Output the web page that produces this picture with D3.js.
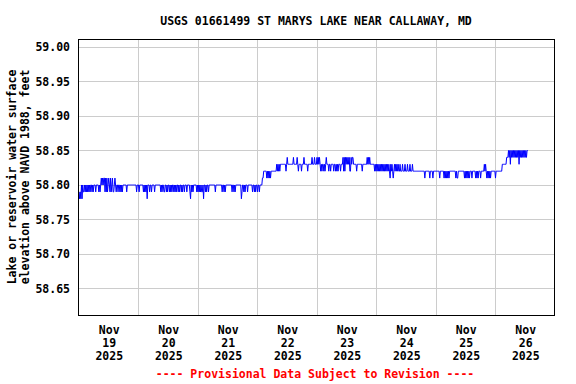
<!DOCTYPE html>
<html>
<head>
<meta charset="utf-8">
<script src="https://cdn.jsdelivr.net/npm/d3@7"></script>
<style>
  body { margin: 0; background: #fff; }
  text { font-family: "DejaVu Sans Mono", monospace; font-weight: bold; font-size: 11.5px; }
</style>
</head>
<body>
<div id="chart"></div>
<script>
// gage height record (hours after Nov 19 00:00)
const title = "USGS 01661499 ST MARYS LAKE NEAR CALLAWAY, MD";
const yTitle = ["Lake or reservoir water surface", "elevation above NAVD 1988, feet"];
const footer = "---- Provisional Data Subject to Revision ----";

const yTicks = [58.65, 58.70, 58.75, 58.80, 58.85, 58.90, 58.95, 59.00];
const dayLabels = ["19", "20", "21", "22", "23", "24", "25", "26"];
const lastHour = 181;

// level the line sits at, from this hour on
const baseSteps = [
  [0, 58.79], [1.8, 58.80], [74.0, 58.81], [74.4, 58.82], [79.3, 58.83],
  [118.8, 58.82], [170.7, 58.83], [172.3, 58.84], [173.2, 58.85]
];

// single 15-minute readings off the base level, grouped by their value
const at5878 = [0.2, 0.7, 1.2, 27.4, 45.1, 50.3, 65.6];
const at5879 = [2.0, 2.5, 3.0, 3.5, 4.0, 4.4, 5.3, 5.7, 6.7, 8.1, 8.6, 10.4, 10.9, 11.6, 12.4,
  13.1, 13.8, 14.0, 15.1, 15.8, 16.5, 17.0, 17.5, 19.2, 23.2, 24.3, 25.9, 26.4, 26.9, 28.6,
  29.2, 30.6, 32.9, 33.5, 34.2, 34.6, 35.2, 35.8, 36.4, 37.0, 37.6, 38.2, 38.8, 39.3, 40.0,
  40.6, 41.2, 41.8, 42.5, 43.4, 44.7, 45.6, 46.1, 47.4, 47.9, 48.4, 48.9, 49.4, 49.8, 51.0,
  51.6, 52.3, 55.0, 57.8, 58.4, 59.1, 61.8, 62.4, 63.1, 65.8, 66.4, 67.0, 67.9, 70.1, 70.7,
  71.3, 71.9, 72.8];
const at5880 = [0.9, 1.4];
const at5881 = [8.9, 9.4, 9.9, 10.2, 10.7, 11.2, 12.0, 12.7, 13.4, 14.6,
  75.8, 76.3, 76.8, 77.2, 125.4, 126.8, 139.5, 141.5, 142.7, 145.5, 147.2, 147.7, 148.2,
  148.7, 149.2, 151.9, 152.4, 152.8, 155.6, 156.1, 156.6, 157.1, 157.6, 158.6, 160.0, 160.5,
  160.9, 162.0, 164.5, 165.0, 165.5, 166.0, 168.0];
const at5882 = [79.6, 80.1, 80.6, 81.1, 83.6, 88.6, 89.8, 92.3, 97.4, 98.0, 98.7, 99.2, 100.8,
  101.4, 102.8, 103.4, 103.9, 104.6, 105.5, 106.8, 107.2, 109.2, 109.5, 111.9, 114.2];
const at5883 = [119.0, 119.5, 120.0, 120.5, 121.0, 121.5, 122.0, 122.5, 123.0, 123.5, 124.0,
  124.5, 125.0, 125.75, 126.25, 127.25, 127.75, 128.25, 128.75, 129.4, 130.4, 131.4, 132.4,
  133.4, 134.4, 163.5, 164.0, 174.0, 177.5];
const at5884 = [84.1, 86.6, 88.0, 90.7, 94.1, 95.0, 96.1, 96.6, 97.1, 99.8, 106.5, 107.0, 107.5,
  108.0, 108.5, 109.0, 109.75, 110.25, 110.5, 116.3, 116.8, 117.3,
  173.5, 174.5, 175.0, 175.5, 176.0, 176.5, 177.0, 178.0, 178.5, 179.0, 179.5, 180.0, 180.5];

const margin = {top: 39, right: 21, bottom: 68, left: 78},
  width = 576 - margin.left - margin.right,
  height = 384 - margin.top - margin.bottom;

const t0 = new Date(2025, 10, 19);
const hr = h => d3.timeMinute.offset(t0, Math.round(h * 60));

// put the readings together on the 15 minute grid
const spikeMap = new Map();
[[at5878, 58.78], [at5879, 58.79], [at5880, 58.80], [at5881, 58.81],
 [at5882, 58.82], [at5883, 58.83], [at5884, 58.84]].forEach(([hs, v]) => {
  hs.forEach(h => spikeMap.set(Math.round(h * 4), v));
});
const data = [];
for (let q = 0; q <= lastHour * 4; q++) {
  let v = baseSteps[0][1];
  baseSteps.forEach(s => { if (s[0] * 4 <= q) v = s[1]; });
  if (spikeMap.has(q)) v = spikeMap.get(q);
  data.push({t: hr(q / 4), v: v});
}

const x = d3.scaleTime()
  .domain([d3.timeMinute.offset(t0, -24), new Date(2025, 10, 27)])
  .range([0, width]);
const y = d3.scaleLinear()
  .domain([58.6101, 59.0116])
  .range([height, 0]);

const svg = d3.select("#chart").append("svg")
  .attr("width", 576).attr("height", 384);
const g = svg.append("g")
  .attr("transform", `translate(${margin.left}, ${margin.top})`);

// grid
g.append("g")
  .attr("class", "grid")
  .call(d3.axisLeft(y).tickValues(yTicks).tickSize(-width).tickFormat(""))
  .call(s => s.select(".domain").remove())
  .call(s => s.selectAll("line").attr("stroke", "#cccccc").attr("shape-rendering", "crispEdges"));
g.append("g")
  .attr("class", "grid")
  .attr("transform", `translate(0, ${height})`)
  .call(d3.axisBottom(x).tickValues(d3.range(1, 8).map(d => d3.timeDay.offset(t0, d)))
    .tickSize(-height).tickFormat(""))
  .call(s => s.select(".domain").remove())
  .call(s => s.selectAll("line").attr("stroke", "#cccccc").attr("shape-rendering", "crispEdges"));

// y tick labels
g.append("g")
  .call(d3.axisLeft(y).tickValues(yTicks).tickSize(0).tickPadding(8).tickFormat(d3.format(".2f")))
  .call(s => s.select(".domain").remove())
  .selectAll("text")
    .attr("fill", "#000")
    .style("font-family", null).style("font-size", null);

// x tick labels at noon, three lines each
const xAxis = g.append("g")
  .attr("transform", `translate(0, ${height})`)
  .call(d3.axisBottom(x).tickValues(dayLabels.map((d, i) => d3.timeHour.offset(t0, i * 24 + 12)))
    .tickSize(0).tickFormat(""));
xAxis.select(".domain").remove();
xAxis.selectAll(".tick text")
  .attr("y", 0).attr("dy", null)
  .attr("fill", "#000")
  .each(function(d, i) {
    const t = d3.select(this);
    ["Nov", dayLabels[i], "2025"].forEach((s, k) => {
      t.append("tspan").attr("x", 0).attr("y", 18 + k * 13).text(s);
    });
  });

// data line
g.append("path")
  .datum(data)
  .attr("fill", "none")
  .attr("stroke", "#0000ff")
  .attr("stroke-width", 1)
  .attr("d", d3.line().x(d => x(d.t)).y(d => y(d.v)));

// frame
g.append("rect")
  .attr("x", 0.5).attr("y", 0.5)
  .attr("width", width - 1).attr("height", height - 1)
  .attr("fill", "none").attr("stroke", "#000").attr("stroke-width", 1);

svg.append("text")
  .attr("x", 316).attr("y", 25)
  .attr("text-anchor", "middle")
  .text(title);

yTitle.forEach((s, i) => {
  svg.append("text")
    .attr("transform", `translate(${16 + i * 13}, 177) rotate(-90)`)
    .attr("text-anchor", "middle")
    .text(s);
});

svg.append("text")
  .attr("x", 315).attr("y", 378)
  .attr("text-anchor", "middle")
  .attr("fill", "#ff0000")
  .text(footer);
</script>
</body>
</html>
